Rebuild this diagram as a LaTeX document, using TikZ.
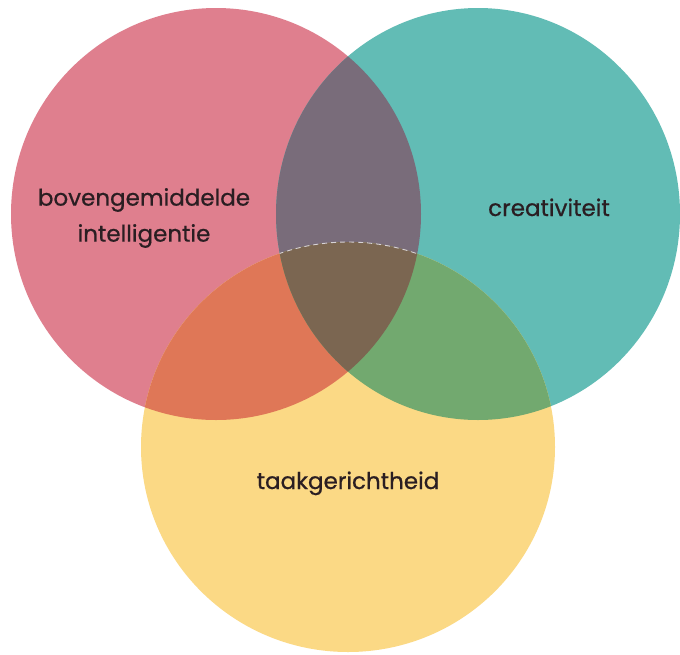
\documentclass[tikz,border=0pt]{standalone}
\usepackage{fontspec}
\setmainfont{Poppins}
\newfontfamily\lblfont[FakeBold=0.7]{Poppins}
\definecolor{cpink}{HTML}{DF7F8E}
\definecolor{cteal}{HTML}{62BCB5}
\definecolor{cyellow}{HTML}{FBD985}
\definecolor{cpurple}{HTML}{796C7A}
\definecolor{corange}{HTML}{DF7757}
\definecolor{cgreen}{HTML}{72A96F}
\definecolor{cbrown}{HTML}{7B6651}
\definecolor{ctext}{HTML}{2A1E22}
\begin{document}
\begin{tikzpicture}[x=1pt,y=-1pt,
  lbl/.style={text=ctext,font=\lblfont\fontsize{23}{36}\selectfont,align=center,inner sep=0pt}]
\useasboundingbox[fill=white] (0,0) rectangle (680,654);
\def\pinkpath{(216,214) ellipse [x radius=205,y radius=206]}
\def\tealpath{(478,214) ellipse [x radius=202,y radius=206]}
\def\yellowpath{(348,447) ellipse [x radius=207,y radius=205]}
\fill[cpink] \pinkpath;
\fill[cteal] \tealpath;
\fill[cyellow] \yellowpath;
\begin{scope}
  \clip \pinkpath;
  \fill[cpurple] \tealpath;
  \fill[corange] \yellowpath;
\end{scope}
\begin{scope}
  \clip \tealpath;
  \fill[cgreen] \yellowpath;
\end{scope}
\begin{scope}
  \clip \pinkpath;
  \clip \tealpath;
  \fill[cbrown] \yellowpath;
  \draw[white!70!cpurple,line width=0.9pt,dash pattern=on 5pt off 4pt] \yellowpath;
\end{scope}
\node[lbl] (intel) at (144,218) {bovengemiddelde\\intelligentie};
\node[lbl,anchor=base] (crea) at (549,216) {creativiteit};
\node[lbl,anchor=base] (taak) at (348,489) {taakgerichtheid};
\end{tikzpicture}
\end{document}
